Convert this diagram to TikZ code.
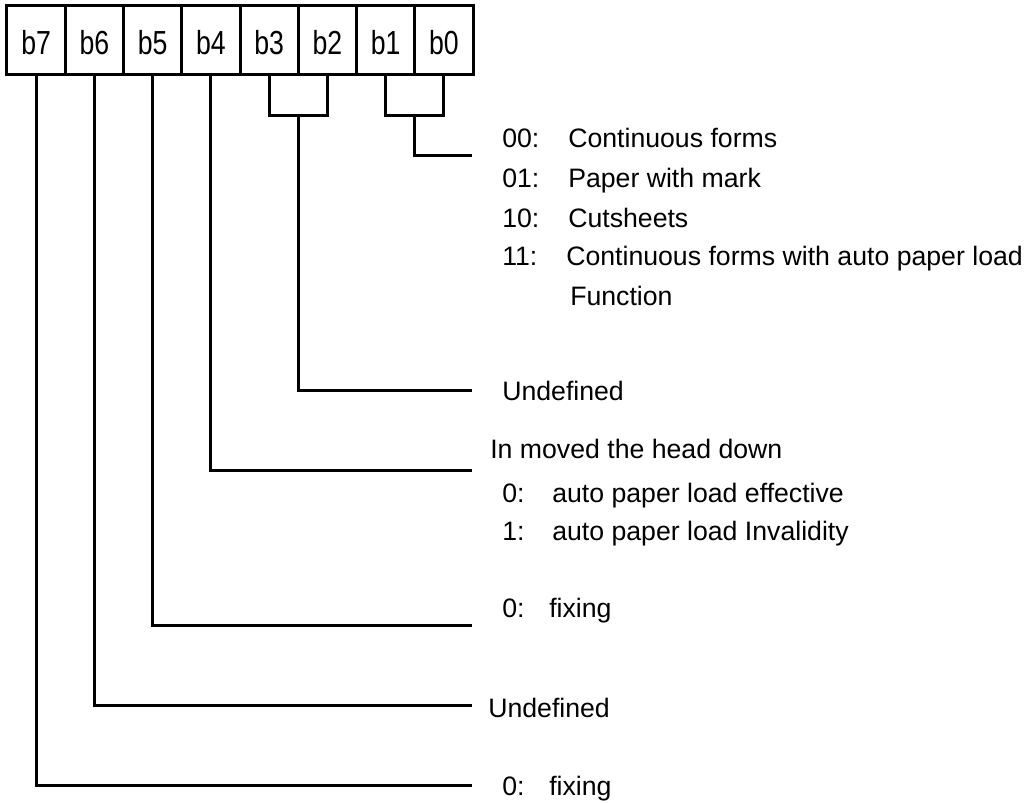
\documentclass[tikz,border=0pt]{standalone}
\usepackage{fontspec}
\setmainfont{Liberation Sans}
\newfontfamily\cellfont[FakeStretch=0.8]{Liberation Sans}
\begin{document}
\begin{tikzpicture}[x=0.75pt,y=-0.75pt,
  every node/.style={font=\fontsize{20pt}{24pt}\selectfont},
  cell/.style={draw,line width=2.25pt,minimum width=43.69pt,minimum height=51.75pt,inner sep=0pt,
    text height=23.25pt,text depth=0pt,font=\cellfont\fontsize{25pt}{30pt}\selectfont},
  wire/.style={line width=2.25pt},
  lbl/.style={anchor=base west,inner sep=0pt}]
\useasboundingbox (0,0) rectangle (1029,803);

% bit cells
\foreach \b [count=\i from 0] in {b7,b6,b5,b4,b3,b2,b1,b0}
  \node[cell] (\b) at ({7+58.25*(\i+0.5)},39.5) {\b};

% junction points and line ends
\coordinate (m32) at (298.25,115);
\coordinate (m10) at (414.75,115);
\coordinate (e10) at (472,155);
\coordinate (e32) at (472,390);
\coordinate (e4)  at (472,470);
\coordinate (e5)  at (472,625);
\coordinate (e6)  at (472,705);
\coordinate (e7)  at (472,785);

% connectors
\draw[wire] (b1.south) |- (m10) -| (b0.south);
\draw[wire] (m10) |- (e10);
\draw[wire] (b3.south) |- (m32) -| (b2.south);
\draw[wire] (m32) |- (e32);
\draw[wire] (b4.south) |- (e4);
\draw[wire] (b5.south) |- (e5);
\draw[wire] (b6.south) |- (e6);
\draw[wire] (b7.south) |- (e7);

% b1-b0 values
\node[lbl] (v00) at (502,147) {00:};
\node[lbl] (t00) at (568,147) {Continuous forms};
\node[lbl] (v01) at (502,187) {01:};
\node[lbl] (t01) at (568,187) {Paper with mark};
\node[lbl] (v10) at (502,227) {10:};
\node[lbl] (t10) at (568,227) {Cutsheets};
\node[lbl] (v11) at (502,265) {11:};
\node[lbl] (t11) at (566,265) {Continuous forms with auto paper load};
\node[lbl] (t11b) at (570,305) {Function};

% b3-b2
\node[lbl] (u32) at (502,400) {Undefined};

% b4
\node[lbl] (h4) at (490,458) {In moved the head down};
\node[lbl] (v40) at (502,502) {0:};
\node[lbl] (t40) at (552,502) {auto paper load effective};
\node[lbl] (v41) at (502,540) {1:};
\node[lbl] (t41) at (552,540) {auto paper load Invalidity};

% b5
\node[lbl] (v5) at (502,617) {0:};
\node[lbl] (t5) at (549,617) {fixing};

% b6
\node[lbl] (u6) at (488,717) {Undefined};

% b7
\node[lbl] (v7) at (502,795) {0:};
\node[lbl] (t7) at (549,795) {fixing};
\end{tikzpicture}
\end{document}
